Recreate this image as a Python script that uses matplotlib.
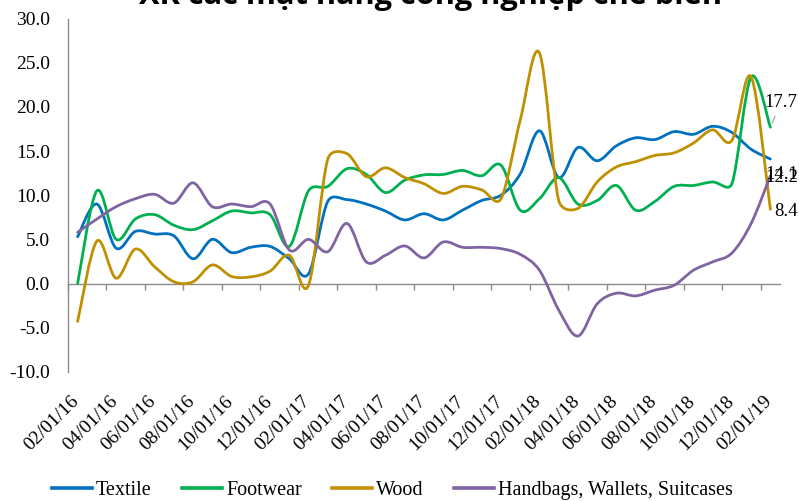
import numpy as np
import matplotlib
matplotlib.use("Agg")
import matplotlib.pyplot as plt
from matplotlib.path import Path
from matplotlib.patches import PathPatch
from matplotlib.lines import Line2D
from matplotlib.transforms import ScaledTranslation

# Monthly categories, Feb 2016 .. Feb 2019 (mm/dd/yy)
months = [f"{m:02d}/01/{y % 100:02d}" for y in range(2016, 2020) for m in range(1, 13)]
months = months[1:38]

tick_labels = ["02/01/16", "04/01/16", "06/01/16", "08/01/16", "10/01/16", "12/01/16",
               "02/01/17", "04/01/17", "06/01/17", "08/01/17", "10/01/17", "12/01/17",
               "02/01/18", "04/01/18", "06/01/18", "08/01/18", "10/01/18", "12/01/18",
               "02/01/19"]

series_names = ["Textile", "Footwear", "Wood", "Handbags, Wallets, Suitcases"]

textile = [5.3, 9.0, 4.0, 5.9, 5.6, 5.4, 2.8, 5.0, 3.5, 4.1, 4.2, 2.8, 1.1,
           9.3, 9.5, 9.0, 8.2, 7.2, 7.9, 7.2, 8.3, 9.4, 10.0, 12.4, 17.3, 12.0,
           15.4, 13.9, 15.6, 16.5, 16.3, 17.2, 16.9, 17.8, 17.1, 15.2, 14.1]
footwear = [0.0, 10.5, 5.0, 7.3, 7.8, 6.6, 6.1, 7.1, 8.2, 8.0, 7.8, 4.2, 10.5,
            11.0, 13.0, 12.35, 10.3, 11.7, 12.3, 12.35, 12.8, 12.2, 13.4, 8.3, 9.6, 12.0,
            9.0, 9.4, 11.1, 8.3, 9.3, 11.0, 11.1, 11.5, 11.3, 23.4, 17.7]
wood = [-4.3, 4.8, 0.6, 3.9, 1.9, 0.2, 0.2, 2.1, 0.8, 0.75, 1.4, 3.2, -0.2,
        14.1, 14.7, 12.1, 13.1, 12.0, 11.3, 10.2, 11.0, 10.6, 9.6, 18.5, 26.1, 9.4,
        8.5, 11.5, 13.2, 13.8, 14.5, 14.8, 15.9, 17.4, 16.2, 23.4, 8.4]
handbags = [5.8, 7.3, 8.7, 9.6, 10.1, 9.1, 11.4, 8.7, 9.0, 8.7, 9.0, 3.8, 5.0,
            3.6, 6.8, 2.45, 3.2, 4.25, 2.9, 4.7, 4.1, 4.1, 3.95, 3.3, 1.5, -3.0,
            -5.95, -2.3, -1.1, -1.4, -0.75, -0.2, 1.5, 2.45, 3.45, 6.8, 12.2]

colors = ["#0070C0", "#00B050", "#BF9000", "#8064A2"]
axis_gray = "#8c8c8c"
serif = "Liberation Serif"


def smooth_path(ax, xs, ys):
    """Smoothed Bezier path through the points; control arms are computed in
    screen space and limited to half the segment length."""
    trans = ax.transData
    pts = trans.transform(np.column_stack([xs, ys]).astype(float))
    n = len(pts)
    verts = [pts[0]]
    codes = [Path.MOVETO]
    for i in range(n - 1):
        p0 = pts[i - 1] if i > 0 else pts[i]
        p1 = pts[i]
        p2 = pts[i + 1]
        p3 = pts[i + 2] if i + 2 < n else pts[i + 1]
        d12 = np.hypot(*(p2 - p1))
        d02 = np.hypot(*(p2 - p0))
        d13 = np.hypot(*(p3 - p1))
        f0 = f3 = 1.0 / 6.0
        if d02 / 6.0 >= d12 / 2.0 and d02 > 0:
            f0 = d12 / d02 / 2.0
        if d13 / 6.0 >= d12 / 2.0 and d13 > 0:
            f3 = d12 / d13 / 2.0
        verts += [p1 + (p2 - p0) * f0, p2 - (p3 - p1) * f3, p2]
        codes += [Path.CURVE4] * 3
    data_verts = trans.inverted().transform(np.array(verts))
    return Path(data_verts, codes)


W, H = 799, 501
fig = plt.figure(figsize=(W / 100, H / 100), dpi=100)
ax = fig.add_axes([68 / W, (H - 371.8) / H, (780 - 68) / W, (371.8 - 18.6) / H])

x = np.arange(len(months))
ax.set_xlim(-0.5, len(months) - 0.5)
ax.set_ylim(-10, 30)

all_series = [textile, footwear, wood, handbags]
for vals, col in zip(all_series, colors):
    ax.add_patch(PathPatch(smooth_path(ax, x, vals), facecolor="none", edgecolor=col,
                           lw=2.0, capstyle="round", joinstyle="round", zorder=3))

# y axis
yt = np.arange(-10, 31, 5)
ax.set_yticks(yt)
ax.set_yticklabels([f"{v:.1f}" for v in yt], fontfamily=serif, fontsize=14)
ax.tick_params(axis="y", length=0, pad=13)
for s in ["top", "right", "bottom"]:
    ax.spines[s].set_visible(False)
ax.spines["left"].set_color(axis_gray)
ax.spines["left"].set_linewidth(1.0)

# category labels below the plot
ax.set_xticks(x[::2])
ax.set_xticklabels(tick_labels, fontfamily=serif, fontsize=14, rotation=45, ha="right")
ax.tick_params(axis="x", length=0, pad=15)
shift = ScaledTranslation(5 / 100, 0, fig.dpi_scale_trans)
for lab in ax.get_xticklabels():
    lab.set_transform(lab.get_transform() + shift)

# horizontal axis line through zero with tick marks between category pairs
zero_frac = (0 - (-10)) / 40
sec = ax.secondary_xaxis(zero_frac)
sec.set_xticks(np.arange(-0.5, len(months) - 1, 2))
sec.set_xticklabels([])
sec.tick_params(direction="out", length=4.3, width=1.0, color=axis_gray)
sec.spines["bottom"].set_color(axis_gray)
sec.spines["bottom"].set_linewidth(1.0)

# end-point value labels
last = len(months) - 1
ax.annotate(f"{footwear[-1]:.1f}", xy=(last, footwear[-1]), xytext=(-4, 18),
            textcoords="offset points", ha="left", va="center",
            fontfamily=serif, fontsize=13.5, zorder=5,
            arrowprops=dict(arrowstyle="-", color="#a0a0a0", lw=0.8,
                            shrinkA=2, shrinkB=3))
ax.annotate(f"{textile[-1]:.1f}", xy=(last, textile[-1]), xytext=(-3.5, -11),
            textcoords="offset points", ha="left", va="center",
            fontfamily=serif, fontsize=13.5, zorder=5)
ax.annotate(f"{handbags[-1]:.1f}", xy=(last, handbags[-1]), xytext=(-3.5, -1),
            textcoords="offset points", ha="left", va="center",
            fontfamily=serif, fontsize=13.5, zorder=5)
ax.annotate(f"{wood[-1]:.1f}", xy=(last, wood[-1]), xytext=(2.5, -1.5),
            textcoords="offset points", ha="left", va="center",
            fontfamily=serif, fontsize=13.5, zorder=5)

# legend
handles = [Line2D([0], [0], color=c, lw=2.6) for c in colors]
fig.legend(handles, series_names, loc="center", bbox_to_anchor=(392.5 / W, 1 - 490 / H),
           ncol=4, frameon=False, prop={"family": serif, "size": 14.5},
           handlelength=2.0, handletextpad=0.2, columnspacing=1.5)

# title (partly above the top edge)
title = fig.text(430.5 / W, 1 - 4 / H, "XK các mặt hàng công nghiệp chế biến",
                 ha="center", va="baseline", fontsize=20, fontweight="bold",
                 family=["Open Sans", "DejaVu Sans"])
fig.canvas.draw()
tw = title.get_window_extent().width
title.set_fontsize(20 * 585 / tw)

fig.savefig("out.png", dpi=100)
